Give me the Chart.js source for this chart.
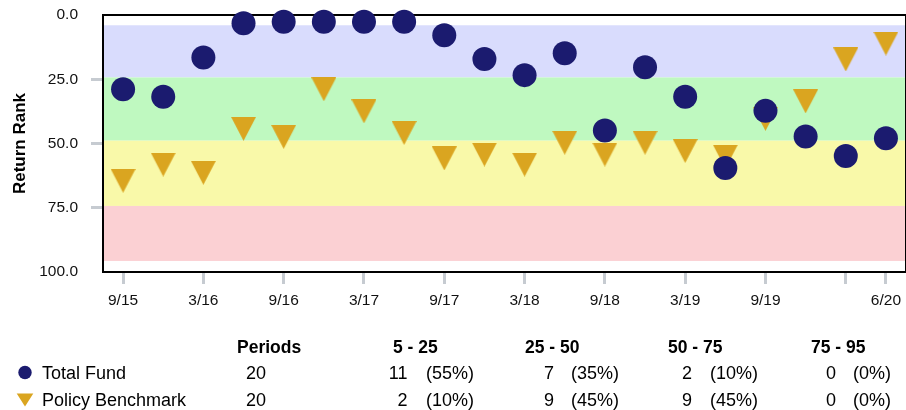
<!DOCTYPE html>
<html><head><meta charset="utf-8">
<script src="https://cdn.jsdelivr.net/npm/chart.js@4/dist/chart.umd.min.js"></script>
<style>html,body{margin:0;padding:0;background:#fff;overflow:hidden;}#wrap{width:906px;height:410px;overflow:hidden;}canvas{display:block;}</style>
</head><body><div id="wrap"><canvas id="c" width="918" height="410"></canvas></div>
<script>
// ---- data ----
const periods = ['9/15','12/15','3/16','6/16','9/16','12/16','3/17','6/17','9/17','12/17','3/18','6/18','9/18','12/18','3/19','6/19','9/19','12/19','3/20','6/20'];
const xTickLabels = ['9/15','','3/16','','9/16','','3/17','','9/17','','3/18','','9/18','','3/19','','9/19','','','6/20'];
const xTickShown = [1,0,1,0,1,0,1,0,1,0,1,0,1,0,1,0,1,0,1,1];
const totalFund = [28.9,31.8,16.5,3.2,2.6,2.6,2.6,2.6,7.9,17.1,23.4,14.9,44.9,20.3,31.8,59.5,37.3,47.3,54.9,48.0];
const policyBenchmark = [64.5,58.2,61.4,44.3,47.4,28.9,37.5,45.9,55.8,54.3,58.2,49.7,54.3,49.7,52.9,55.1,40.4,33.6,17.3,11.1];
const yTicks = [0,25,50,75,100];
const bandEdges = [4.0,24.3,48.9,74.3,95.7];
const bandColors = ['#d9dcfd','#bff9c0','#f9f9a9','#fbd0d3'];
const tableHeaders = ['Periods','5 - 25','25 - 50','50 - 75','75 - 95'];
const seriesNames = ['Total Fund','Policy Benchmark'];
const periodCounts = [20,20];
const fundCounts = [11,7,2,0];
const benchCounts = [2,9,9,0];

const NAVY = '#1b1b6f', GOLD = '#daa520', TICK = '#c6cbd1';
const FONT = '"Liberation Sans", Arial, Helvetica, sans-serif';

function triImage(w, h) {
  const c = document.createElement('canvas');
  c.width = w; c.height = h;
  const g = c.getContext('2d');
  g.fillStyle = GOLD;
  g.beginPath(); g.moveTo(0, 0); g.lineTo(w, 0); g.lineTo(w / 2, h); g.closePath(); g.fill();
  return c;
}
const triMarker = triImage(25, 24);

const bandsPlugin = {
  id: 'bands',
  beforeDatasetsDraw(chart) {
    const { ctx, chartArea: a, scales: { y } } = chart;
    ctx.save();
    for (let i = 0; i < bandColors.length; i++) {
      const y1 = y.getPixelForValue(bandEdges[i]);
      const y2 = y.getPixelForValue(bandEdges[i + 1]);
      ctx.fillStyle = bandColors[i];
      ctx.fillRect(a.left, y1, a.right - a.left, y2 - y1);
    }
    ctx.strokeStyle = '#000';
    ctx.lineWidth = 2;
    ctx.strokeRect(a.left, a.top, a.right - a.left, a.bottom - a.top);
    ctx.restore();
  }
};

const tablePlugin = {
  id: 'table',
  afterDraw(chart) {
    const ctx = chart.ctx;
    ctx.save();
    ctx.fillStyle = '#000';
    ctx.textBaseline = 'alphabetic';
    ctx.font = 'bold 17.5px ' + FONT;
    ctx.textAlign = 'left';
    const headX = [237, 393, 525, 668, 811];
    tableHeaders.forEach((t, i) => ctx.fillText(t, headX[i], 352.5));
    const rowBase = [379, 405.5];
    const rowMid = [372.5, 399.5];
    const counts = [fundCounts, benchCounts];
    const countRight = [407.5, 554, 692, 836];
    const pctLeft = [426, 571, 710, 853];
    for (let r = 0; r < 2; r++) {
      ctx.font = '18px ' + FONT;
      ctx.textAlign = 'left';
      ctx.fillText(seriesNames[r], 42, rowBase[r]);
      ctx.fillText(String(periodCounts[r]), 246, rowBase[r]);
      counts[r].forEach((n, i) => {
        ctx.textAlign = 'right';
        ctx.fillText(String(n), countRight[i], rowBase[r]);
        ctx.textAlign = 'left';
        ctx.fillText('(' + Math.round(n / periodCounts[r] * 100) + '%)', pctLeft[i], rowBase[r]);
      });
    }
    ctx.fillStyle = NAVY;
    ctx.beginPath(); ctx.arc(25, rowMid[0], 6.7, 0, Math.PI * 2); ctx.fill();
    ctx.fillStyle = GOLD;
    ctx.beginPath(); ctx.moveTo(16.7, rowMid[1] - 6); ctx.lineTo(33.3, rowMid[1] - 6); ctx.lineTo(25, rowMid[1] + 7); ctx.closePath(); ctx.fill();
    ctx.restore();
  }
};

new Chart(document.getElementById('c'), {
  type: 'line',
  data: {
    labels: periods,
    datasets: [
      { label: seriesNames[0], data: totalFund, showLine: false, pointStyle: 'circle', pointRadius: 12, pointHoverRadius: 12,
        pointBackgroundColor: NAVY, pointBorderWidth: 0, pointBorderColor: NAVY, order: 0, clip: false },
      { label: seriesNames[1], data: policyBenchmark, showLine: false, pointStyle: triMarker, pointRadius: 12, pointHoverRadius: 12,
        pointBackgroundColor: GOLD, pointBorderWidth: 0, order: 1, clip: false }
    ]
  },
  options: {
    responsive: false, animation: false, devicePixelRatio: 1,
    layout: { padding: { top: 15, right: 0, bottom: 0, left: 0 } },
    plugins: { legend: { display: false }, tooltip: { enabled: false } },
    scales: {
      x: {
        type: 'category', offset: true,
        border: { display: false },
        grid: { drawOnChartArea: false, drawTicks: true, tickLength: 12, tickWidth: 3,
          tickColor: (c) => (xTickShown[c.index] ? TICK : 'rgba(0,0,0,0)') },
        ticks: { autoSkip: false, maxRotation: 0, minRotation: 0, padding: 7, color: '#111',
          font: { family: FONT, size: 15.5 }, callback: (v, i) => xTickLabels[i] },
        afterFit: (s) => { s.height = 138; s.paddingLeft = 0; s.paddingRight = 0; }
      },
      y: {
        type: 'linear', reverse: true, min: 0, max: 100,
        afterBuildTicks: (s) => { s.ticks = yTicks.map(v => ({ value: v })); },
        border: { display: false },
        grid: { drawOnChartArea: false, tickLength: 12, tickWidth: 3,
          tickColor: (c) => ((c.tick && (c.tick.value === 0 || c.tick.value === 100)) ? 'rgba(0,0,0,0)' : TICK) },
        ticks: { padding: 13, color: '#111', font: { family: FONT, size: 15.5 }, callback: (v) => Number(v).toFixed(1) },
        title: { display: true, text: 'Return Rank', color: '#000', font: { family: FONT, size: 17, weight: 'bold' },
          padding: { top: 10, bottom: 0 } },
        afterFit: (s) => { s.width = 103; s.paddingTop = 0; s.paddingBottom = 0; }
      }
    }
  },
  plugins: [bandsPlugin, tablePlugin]
});
</script>
</body></html>
